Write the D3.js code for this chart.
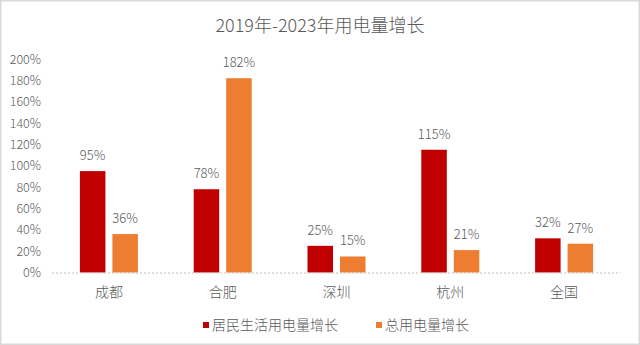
<!DOCTYPE html>
<html>
<head>
<meta charset="utf-8">
<script src="https://cdn.jsdelivr.net/npm/d3@7/dist/d3.min.js"></script>
<style>
  html, body { margin: 0; padding: 0; background: #fff; }
  svg { display: block; }
  text { font-family: "Noto Sans CJK SC", "DejaVu Sans", sans-serif; fill: #595959; font-weight: 300; }
</style>
</head>
<body>
<svg id="chart" width="640" height="345"></svg>
<script>
// Electricity consumption growth, 2019 → 2023
const categories = ["成都", "合肥", "深圳", "杭州", "全国"];
const seriesNames = ["居民生活用电量增长", "总用电量增长"];
const residential = [95, 78, 25, 115, 32];
const total = [36, 182, 15, 21, 27];
const yTicks = [0, 20, 40, 60, 80, 100, 120, 140, 160, 180, 200];
const colors = ["#C00000", "#ED7D31"];

const W = 640, H = 345;
const svg = d3.select("#chart");

// outer frame
svg.append("rect")
  .attr("x", 0.75).attr("y", 0.75)
  .attr("width", W - 1.5).attr("height", H - 1.5)
  .attr("fill", "#fff").attr("stroke", "#d9d9d9").attr("stroke-width", 1.5);

const plot = { left: 52, right: 621, top: 59, bottom: 272.5 };

const x0 = d3.scaleBand().domain(categories).range([plot.left, plot.right]);
const groupW = 58;
const x1 = d3.scaleBand().domain(seriesNames)
  .range([x0.bandwidth() / 2 - groupW / 2, x0.bandwidth() / 2 + groupW / 2])
  .paddingInner(0.215).paddingOuter(0);
const y = d3.scaleLinear().domain([0, 200]).range([plot.bottom, plot.top]);

// title
svg.append("text")
  .attr("x", 320).attr("y", 32)
  .attr("text-anchor", "middle")
  .style("font-size", "18px")
  .text("2019年-2023年用电量增长");

// y axis labels
const yAxis = d3.axisLeft(y).tickValues(yTicks).tickSize(0).tickPadding(0)
  .tickFormat(d => d + "%");
const gy = svg.append("g").attr("transform", `translate(41,0)`).call(yAxis);
gy.select(".domain").remove();
gy.selectAll("text")
  .style("font-size", "12.5px")
  .style("fill", "#595959")
  .style("font-weight", 300)
  .style("font-family", "'Noto Sans CJK SC', sans-serif");

// bars
const rows = categories.map((c, i) => ({ cat: c, vals: [residential[i], total[i]] }));
const groups = svg.append("g").selectAll("g").data(rows).join("g")
  .attr("transform", d => `translate(${x0(d.cat)},0)`);

groups.selectAll("rect")
  .data(d => d.vals.map((v, j) => ({ name: seriesNames[j], v, j })))
  .join("rect")
  .attr("x", d => x1(d.name))
  .attr("y", d => y(d.v))
  .attr("width", x1.bandwidth())
  .attr("height", d => y(0) - y(d.v))
  .attr("fill", d => colors[d.j]);

// value labels
groups.selectAll("text.val")
  .data(d => d.vals.map((v, j) => ({ name: seriesNames[j], v, j })))
  .join("text")
  .attr("class", "val")
  .attr("x", d => x1(d.name) + x1.bandwidth() / 2)
  .attr("y", d => y(d.v) - 11)
  .attr("text-anchor", "middle")
  .style("font-size", "13px")
  .text(d => d.v + "%");

// baseline axis (dotted)
svg.append("line")
  .attr("x1", plot.left).attr("x2", plot.right)
  .attr("y1", y(0) + 0.5).attr("y2", y(0) + 0.5)
  .attr("stroke", "#bfbfbf").attr("stroke-width", 1)
  .attr("stroke-dasharray", "2,2");

// category labels
const xAxis = d3.axisBottom(x0).tickSize(0).tickPadding(0);
const gx = svg.append("g").attr("transform", `translate(0,${y(0) + 24})`).call(xAxis);
gx.select(".domain").remove();
gx.selectAll("text")
  .attr("dy", 0)
  .style("font-size", "14px")
  .style("fill", "#595959")
  .style("font-weight", 300)
  .style("font-family", "'Noto Sans CJK SC', sans-serif");

// legend
const legend = [
  { name: seriesNames[0], color: colors[0], x: 203 },
  { name: seriesNames[1], color: colors[1], x: 376 }
];
const lg = svg.append("g").selectAll("g").data(legend).join("g")
  .attr("transform", d => `translate(${d.x},0)`);
lg.append("rect")
  .attr("x", 0).attr("y", 322).attr("width", 6).attr("height", 6)
  .attr("fill", d => d.color);
lg.append("text")
  .attr("x", 9).attr("y", 330)
  .style("font-size", "14px")
  .text(d => d.name);
</script>
</body>
</html>
